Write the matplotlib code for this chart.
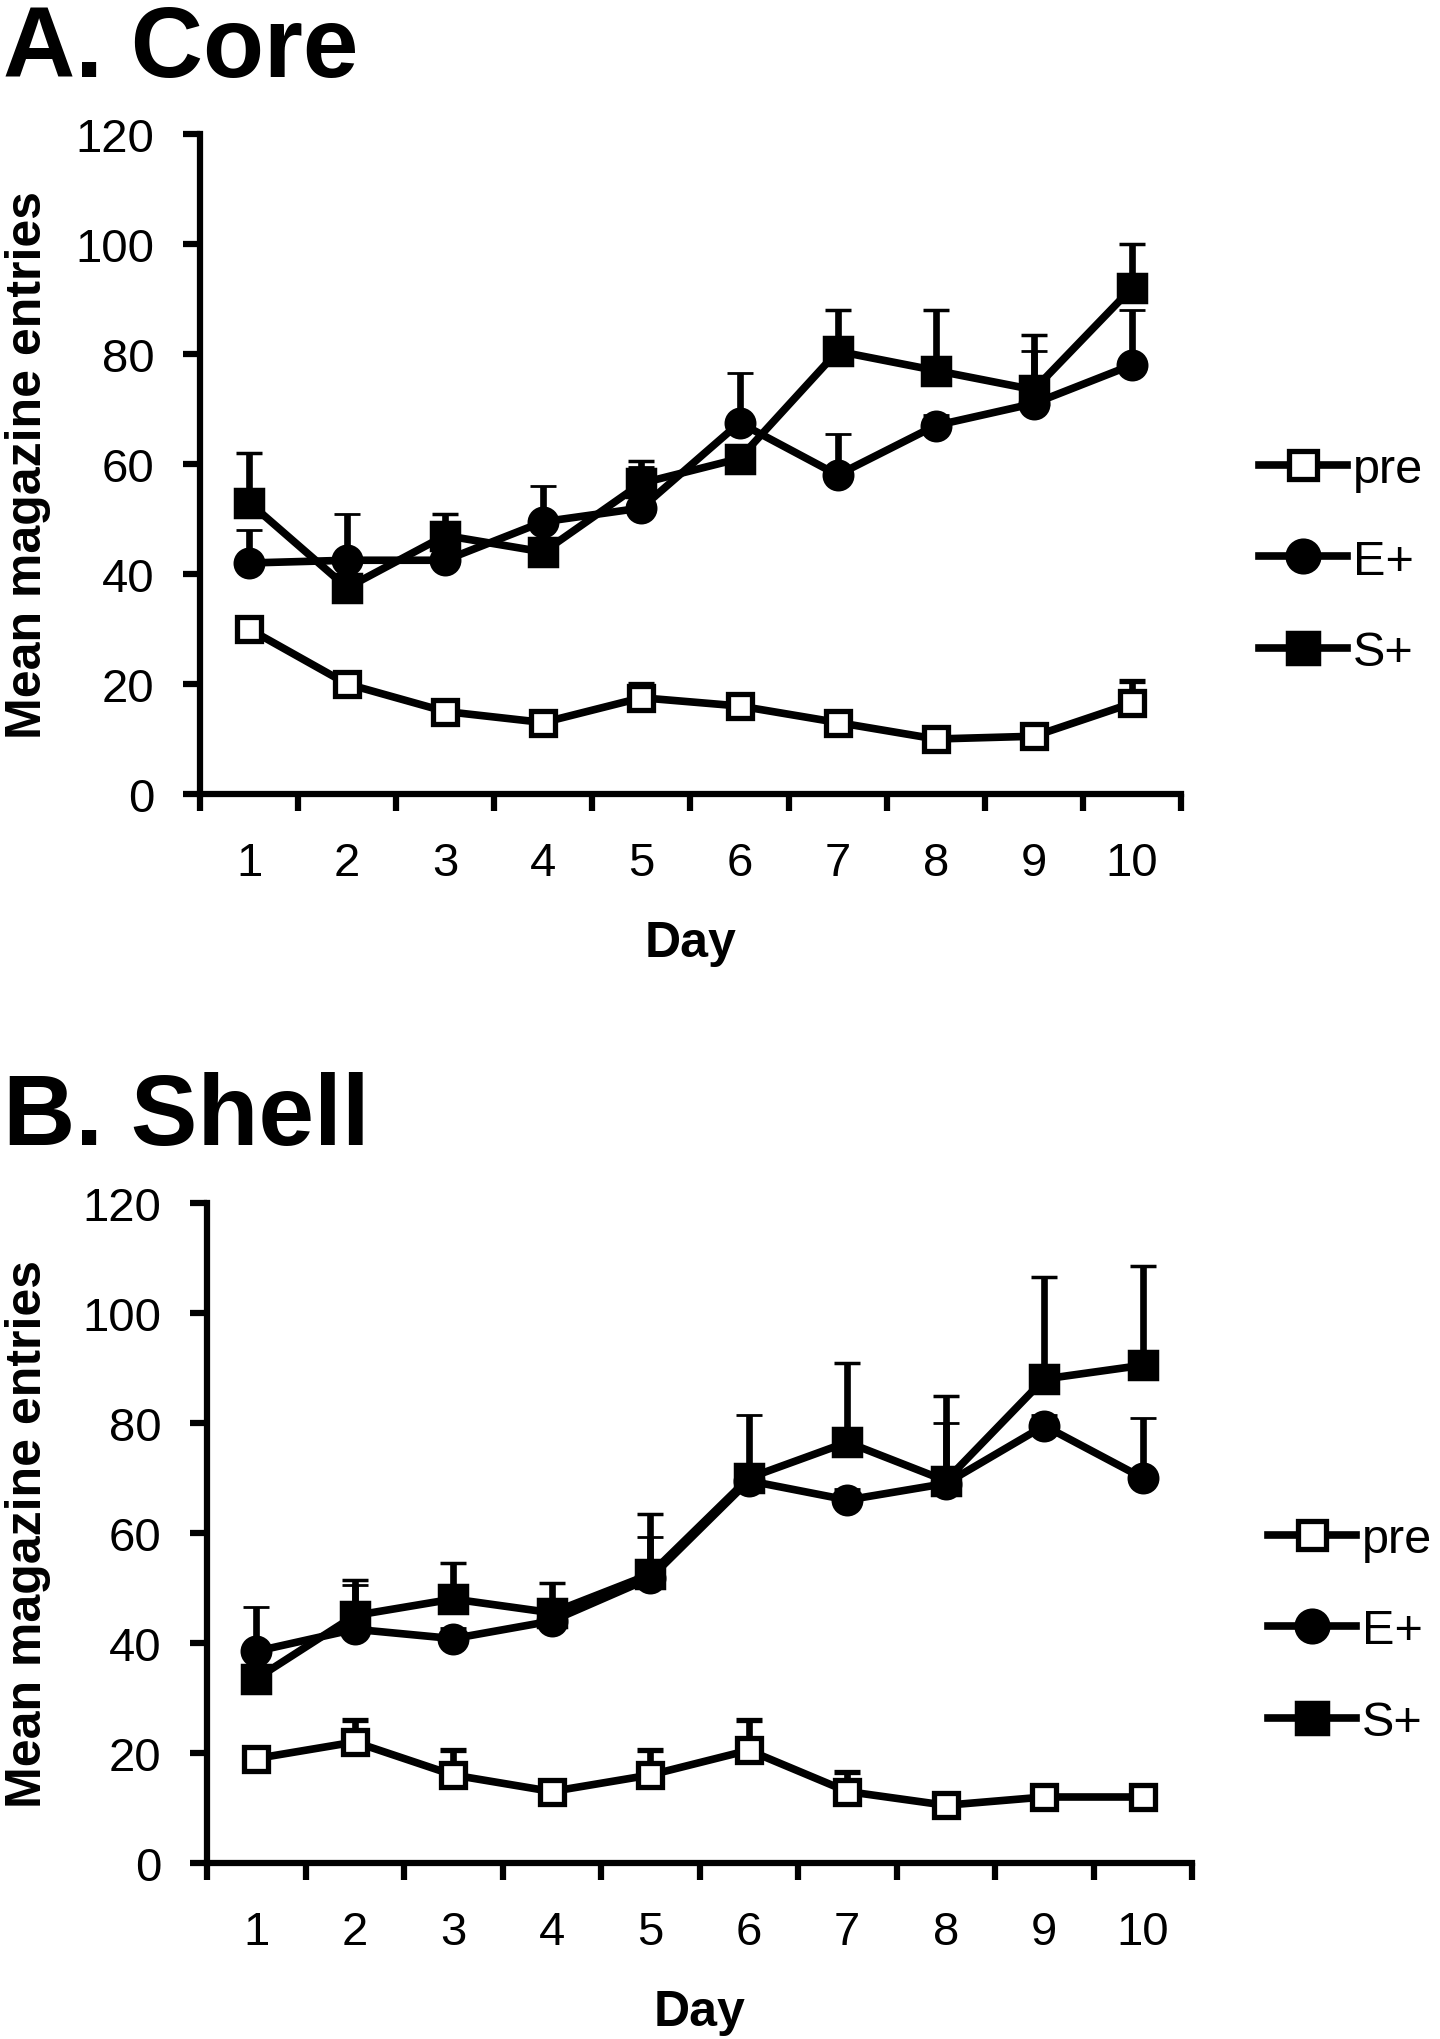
import matplotlib
matplotlib.use('Agg')
import matplotlib.pyplot as plt
from matplotlib.lines import Line2D
import numpy as np

plt.rcParams['font.family'] = ['Liberation Sans', 'DejaVu Sans']

# ---------------- data ----------------
days = [1, 2, 3, 4, 5, 6, 7, 8, 9, 10]
day_labels = ['1', '2', '3', '4', '5', '6', '7', '8', '9', '10']
series_names = ['pre', 'E+', 'S+']
y_ticks = [0, 20, 40, 60, 80, 100, 120]

core_pre = [30, 20, 15, 13, 17.5, 16, 13, 10, 10.5, 16.5]
core_pre_err = [0.5, 2, 0.5, 0.5, 2.5, 0.5, 0.5, 0.5, 0.5, 4]
core_e = [42, 42.5, 42.5, 49.5, 52, 67.5, 58, 67, 71, 78]
core_e_err = [6, 8.5, 3, 6.5, 7.5, 9, 7.5, 2, 9.5, 10]
core_s = [53, 37.5, 47, 44, 56.5, 61, 80.5, 77, 73.5, 92]
core_s_err = [9, 2, 4, 2, 4, 2, 7.5, 11, 10, 8]

shell_pre = [19, 22, 16, 13, 16, 20.5, 13, 10.5, 12, 12]
shell_pre_err = [0.5, 4, 4.5, 0.5, 4.5, 5.5, 3.5, 0.5, 0.5, 0.5]
shell_e = [38.5, 42.5, 40.8, 44, 51.8, 69.5, 66, 69, 79.5, 70]
shell_e_err = [8, 8, 2, 2, 7.5, 12, 2, 11, 2, 11]
shell_s = [33.5, 45, 48, 45.5, 52.5, 70, 76.5, 69.5, 88, 90.5]
shell_s_err = [2, 6.5, 6.5, 5.5, 11, 2, 14.5, 15.5, 18.5, 18]

# ---------------- figure ----------------
W, H = 1440, 2040
fig = plt.figure(figsize=(W / 100, H / 100), dpi=100)


def fx(px):
    return px / W


def fy(py):
    return 1 - py / H


LW = 5.5
styles = {
    'pre': dict(marker='s', ms=17, mfc='white', mec='black', mew=3.8),
    'E+': dict(marker='o', ms=21, mfc='black', mec='black', mew=2),
    'S+': dict(marker='s', ms=20, mfc='black', mec='black', mew=2.5),
}


def panel(rect, title, title_base, pre, pre_err, e, e_err, s, s_err,
          leg_left, leg_center, daylabel_base):
    l, t, r, b = rect
    ax = fig.add_axes([fx(l), fy(b), fx(r) - fx(l), fy(t) - fy(b)])
    x = np.array(days, dtype=float)
    for name, vals, errs, z in [('pre', pre, pre_err, 3), ('E+', e, e_err, 4), ('S+', s, s_err, 5)]:
        errs = np.array(errs)
        ax.errorbar(x, vals, yerr=[np.zeros_like(errs), errs], color='black',
                    lw=LW, elinewidth=4.8, capsize=9.6, capthick=5.0,
                    zorder=z, clip_on=False, **styles[name])
    ax.set_xlim(0.5, 10.5)
    ax.set_ylim(0, 120)
    for sp in ['top', 'right']:
        ax.spines[sp].set_visible(False)
    for sp in ['left', 'bottom']:
        ax.spines[sp].set_linewidth(4.5)
        ax.spines[sp].set_capstyle('projecting')
    ax.set_yticks(y_ticks)
    ax.set_yticklabels([str(v) for v in y_ticks])
    ax.tick_params(axis='y', length=12, width=4.5, direction='out',
                   labelsize=34, pad=21)
    ax.set_xticks(days)
    ax.set_xticklabels(day_labels)
    ax.set_xticks(np.arange(0.5, 11.0, 1.0), minor=True)
    ax.tick_params(axis='x', which='major', length=0, pad=34, labelsize=34)
    ax.tick_params(axis='x', which='minor', length=12, width=4.5, direction='out')

    fig.text(fx(3), fy(title_base), title, fontsize=72, fontweight='bold',
             ha='left', va='baseline')
    fig.text(fx(28), fy((t + b) / 2), 'Mean magazine entries', fontsize=36,
             fontweight='bold', rotation=90, ha='center', va='center')
    fig.text(fx((l + r) / 2), fy(daylabel_base), 'Day', fontsize=36,
             fontweight='bold', ha='center', va='baseline')

    handles = [Line2D([], [], color='black', lw=LW,
                      **{**styles[n], 'ms': styles[n]['ms'] + 3}) for n in series_names]
    ax.legend(handles, series_names, loc='center left',
              bbox_to_anchor=(fx(leg_left), fy(leg_center)),
              bbox_transform=fig.transFigure, frameon=False, fontsize=35,
              handlelength=1.82, handletextpad=0.12, labelspacing=0.95,
              borderpad=0, borderaxespad=0, numpoints=1)
    return ax


panel((200, 135, 1181, 795), 'A. Core', 77,
      core_pre, core_pre_err, core_e, core_e_err, core_s, core_s_err,
      1259, 562, 957)
panel((207, 1204, 1192, 1864), 'B. Shell', 1145,
      shell_pre, shell_pre_err, shell_e, shell_e_err, shell_s, shell_s_err,
      1268, 1632, 2026)

fig.savefig('out.png', dpi=100)
